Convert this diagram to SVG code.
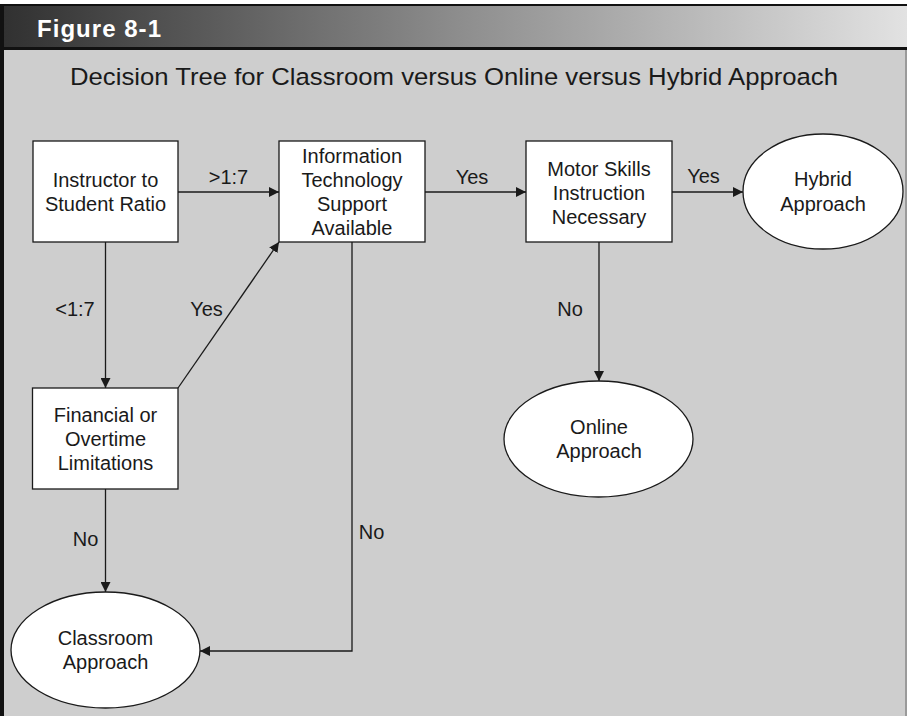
<svg xmlns="http://www.w3.org/2000/svg" width="907" height="716" viewBox="0 0 907 716">
<defs>
<linearGradient id="hdr" x1="0" y1="0" x2="1" y2="0">
<stop offset="0" stop-color="#303030"/>
<stop offset="0.5" stop-color="#8c8c8c"/>
<stop offset="1" stop-color="#e2e2e2"/>
</linearGradient>
<marker id="arr" viewBox="0 0 10 10" refX="10" refY="5" markerWidth="10" markerHeight="10" markerUnits="userSpaceOnUse" orient="auto">
<path d="M0,0 L10,5 L0,10 z" fill="#1a1a1a"/>
</marker>
<style>
.box{fill:#fff;stroke:#1a1a1a;stroke-width:1.3}
.t{font-family:"Liberation Sans",Arial,sans-serif;font-size:20px;fill:#1a1a1a;text-anchor:middle}
.c{fill:none;stroke:#1a1a1a;stroke-width:1.3}
</style>
</defs>
<rect x="0" y="0" width="907" height="716" fill="#fff"/>
<rect x="0" y="4" width="907" height="712" fill="#cecece"/>
<rect x="0" y="5" width="907" height="43" fill="url(#hdr)"/>
<rect x="0" y="4" width="907" height="2" fill="#111"/>
<rect x="0" y="47" width="907" height="3" fill="#111"/>
<rect x="0" y="4" width="4" height="712" fill="#111"/>
<rect x="905" y="50" width="2" height="666" fill="#9a9a9a"/>
<text x="37" y="37" font-family="'Liberation Sans',Arial,sans-serif" font-weight="bold" font-size="24" fill="#fff" textLength="124" lengthAdjust="spacing">Figure 8-1</text>
<text x="70" y="85" font-family="'Liberation Sans',Arial,sans-serif" font-size="24.5" fill="#1a1a1a" textLength="768" lengthAdjust="spacingAndGlyphs">Decision Tree for Classroom versus Online versus Hybrid Approach</text>

<g id="connectors">
<line class="c" x1="178" y1="192" x2="279" y2="192" marker-end="url(#arr)"/>
<line class="c" x1="425" y1="192" x2="526" y2="192" marker-end="url(#arr)"/>
<line class="c" x1="672" y1="192" x2="743" y2="192" marker-end="url(#arr)"/>
<line class="c" x1="105.5" y1="242" x2="105.5" y2="388" marker-end="url(#arr)"/>
<line class="c" x1="178" y1="388" x2="279" y2="242" marker-end="url(#arr)"/>
<line class="c" x1="599" y1="242" x2="599" y2="381" marker-end="url(#arr)"/>
<line class="c" x1="105.5" y1="489" x2="105.5" y2="592" marker-end="url(#arr)"/>
<polyline class="c" points="352,242 352,651 200,651" marker-end="url(#arr)"/>
<text class="t" x="228.5" y="184">&gt;1:7</text>
<text class="t" x="472" y="184">Yes</text>
<text class="t" x="703.5" y="183">Yes</text>
<text class="t" x="75" y="316">&lt;1:7</text>
<text class="t" x="206.5" y="316">Yes</text>
<text class="t" x="570" y="316">No</text>
<text class="t" x="85.5" y="546">No</text>
<text class="t" x="371.5" y="539">No</text>
</g>

<g id="ratio">
<rect class="box" x="33" y="141" width="145" height="101"/>
<text class="t" x="105.5" y="187">Instructor to</text>
<text class="t" x="105.5" y="211">Student Ratio</text>
</g>
<g id="itsupport">
<rect class="box" x="279" y="141" width="146" height="101"/>
<text class="t" x="352" y="162.5">Information</text>
<text class="t" x="352" y="186.5">Technology</text>
<text class="t" x="352" y="210.5">Support</text>
<text class="t" x="352" y="234.5">Available</text>
</g>
<g id="motor">
<rect class="box" x="526" y="141" width="146" height="101"/>
<text class="t" x="599" y="175.5">Motor Skills</text>
<text class="t" x="599" y="199.5">Instruction</text>
<text class="t" x="599" y="223.5">Necessary</text>
</g>
<g id="hybrid">
<ellipse class="box" cx="823" cy="191.5" rx="80" ry="57.5"/>
<text class="t" x="823" y="186">Hybrid</text>
<text class="t" x="823" y="210.5">Approach</text>
</g>
<g id="financial">
<rect class="box" x="32.5" y="388" width="145.5" height="101"/>
<text class="t" x="105.5" y="421.5">Financial or</text>
<text class="t" x="105.5" y="446">Overtime</text>
<text class="t" x="105.5" y="470">Limitations</text>
</g>
<g id="online">
<ellipse class="box" cx="598.5" cy="439" rx="94.5" ry="58"/>
<text class="t" x="599" y="433.5">Online</text>
<text class="t" x="599" y="457.5">Approach</text>
</g>
<g id="classroom">
<ellipse class="box" cx="105.5" cy="650" rx="94.5" ry="58"/>
<text class="t" x="105.5" y="645">Classroom</text>
<text class="t" x="105.5" y="668.5">Approach</text>
</g>
</svg>
